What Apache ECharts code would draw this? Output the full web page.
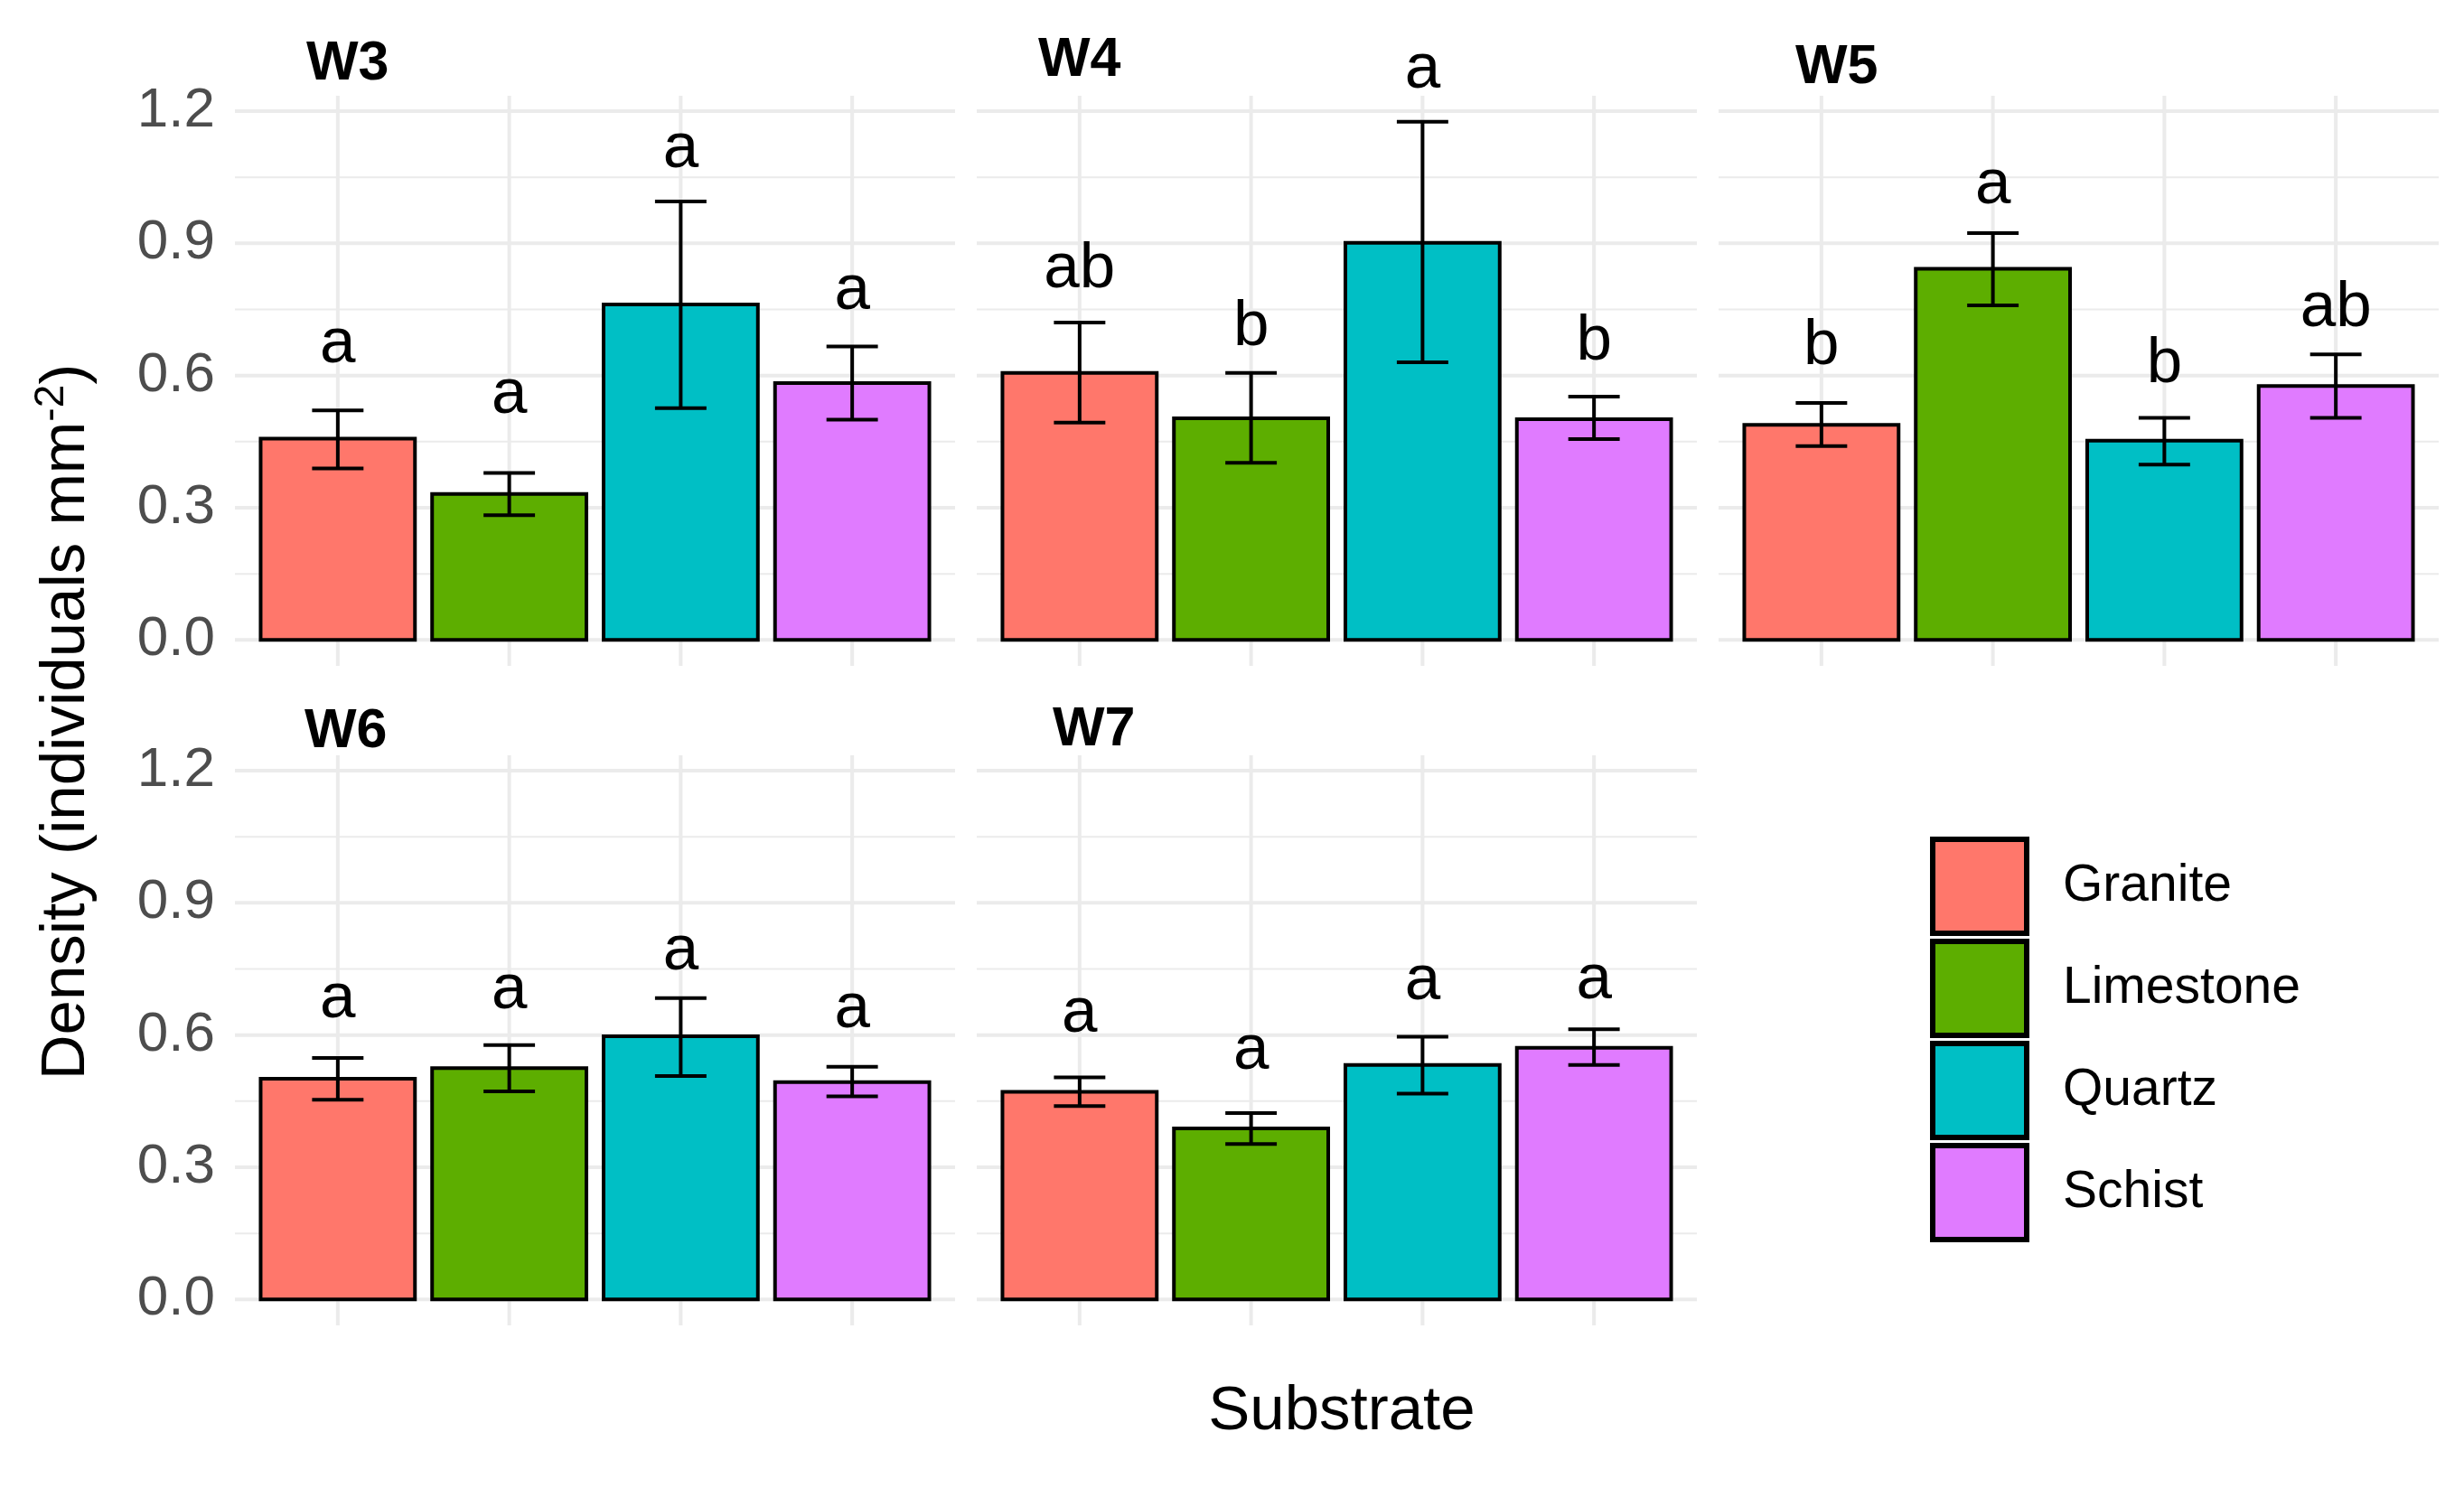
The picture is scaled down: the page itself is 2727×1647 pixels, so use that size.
<!DOCTYPE html>
<html>
<head>
<meta charset="utf-8">
<script src="https://cdn.jsdelivr.net/npm/echarts@6/dist/echarts.min.js"></script>
<style>
html,body{margin:0;padding:0;background:#fff;}
#chart{width:2727px;height:1647px;}
</style>
</head>
<body>
<div id="chart"></div>
<script>
// ---------------- data ----------------
const categories = ['Granite', 'Limestone', 'Quartz', 'Schist'];
const panels = ['W3', 'W4', 'W5', 'W6', 'W7'];
const colors = ['#FF776B', '#5DAE00', '#00BFC5', '#E07BFF'];

const meanW3 = [0.457, 0.331, 0.761, 0.583];
const meanW4 = [0.606, 0.503, 0.901, 0.501];
const meanW5 = [0.488, 0.842, 0.452, 0.576];
const meanW6 = [0.501, 0.525, 0.597, 0.493];
const meanW7 = [0.471, 0.388, 0.532, 0.571];

const upperW3 = [0.521, 0.379, 0.995, 0.666];
const upperW4 = [0.720, 0.606, 1.176, 0.552];
const upperW5 = [0.538, 0.923, 0.504, 0.648];
const upperW6 = [0.548, 0.577, 0.684, 0.528];
const upperW7 = [0.504, 0.423, 0.596, 0.613];

const lowerW3 = [0.389, 0.283, 0.526, 0.500];
const lowerW4 = [0.493, 0.402, 0.630, 0.456];
const lowerW5 = [0.440, 0.759, 0.398, 0.504];
const lowerW6 = [0.453, 0.472, 0.507, 0.461];
const lowerW7 = [0.439, 0.353, 0.467, 0.532];

const lettersW3 = ['a', 'a', 'a', 'a'];
const lettersW4 = ['ab', 'b', 'a', 'b'];
const lettersW5 = ['b', 'a', 'b', 'ab'];
const lettersW6 = ['a', 'a', 'a', 'a'];
const lettersW7 = ['a', 'a', 'a', 'a'];

// height (data units) of the letter baseline
const letterYW3 = [0.618, 0.502, 1.060, 0.738];
const letterYW4 = [0.787, 0.656, 1.241, 0.623];
const letterYW5 = [0.613, 0.978, 0.572, 0.699];
const letterYW6 = [0.628, 0.649, 0.736, 0.605];
const letterYW7 = [0.596, 0.511, 0.668, 0.671];

const yMajorTicks = [0.0, 0.3, 0.6, 0.9, 1.2];
const yMinorTicks = [0.15, 0.45, 0.75, 1.05];

const xTitle = 'Substrate';
const yTitleMain = 'Density (individuals mm';
const yTitleSup = '-2';

// ---------------- layout ----------------
const means = [meanW3, meanW4, meanW5, meanW6, meanW7];
const uppers = [upperW3, upperW4, upperW5, upperW6, upperW7];
const lowers = [lowerW3, lowerW4, lowerW5, lowerW6, lowerW7];
const letters = [lettersW3, lettersW4, lettersW5, lettersW6, lettersW7];
const letterYs = [letterYW3, letterYW4, letterYW5, letterYW6, letterYW7];

const FONT = '"Liberation Sans", Arial, Helvetica, sans-serif';
const colLeft = [260, 1081, 1902];
const rowTop = [106, 836];
const gridW = 797, gridH = 631;
const panelPos = [[0,0],[0,1],[0,2],[1,0],[1,1]];
const yMin = -0.0588, yMax = 1.2348;
const xMin = 0.4, xMax = 4.6;
const barHalf = 0.45, capHalf = 0.15;
const letterFont = 71;
const LW = 4;

const titlePos = [[339, 77], [1149, 73], [1987, 81], [337, 816], [1165, 814]];

const grids = [], xAxes = [], yAxes = [], series = [], graphics = [];

panels.forEach((pn, p) => {
  const [r, c] = panelPos[p];
  grids.push({left: colLeft[c], top: rowTop[r], width: gridW, height: gridH, containLabel: false});
  xAxes.push({type: 'value', gridIndex: p, min: xMin, max: xMax, show: false});
  const showLab = (c === 0);
  yAxes.push({
    type: 'value', gridIndex: p, min: yMin, max: yMax,
    axisLine: {show: false}, axisTick: {show: false}, splitLine: {show: false},
    axisLabel: {
      show: showLab, customValues: yMajorTicks, margin: 22,
      fontSize: 62, color: '#4D4D4D', fontFamily: FONT,
      formatter: v => Number(v).toFixed(1)
    }
  });

  // gridlines
  const gridData = [];
  yMajorTicks.forEach(v => gridData.push([0, v]));
  yMinorTicks.forEach(v => gridData.push([1, v]));
  categories.forEach((cat, i) => gridData.push([2, i + 1]));
  series.push({
    type: 'custom', xAxisIndex: p, yAxisIndex: p, z: 0, silent: true,
    data: gridData, encode: {x: -1, y: -1},
    renderItem: (params, api) => {
      const kind = api.value(0), v = api.value(1);
      let a, b, w;
      if (kind === 2) { a = api.coord([v, yMin]); b = api.coord([v, yMax]); w = 4; }
      else { a = api.coord([xMin, v]); b = api.coord([xMax, v]); w = kind === 0 ? 4 : 2; }
      return {type: 'line', shape: {x1: a[0], y1: a[1], x2: b[0], y2: b[1]},
              style: {stroke: '#EBEBEB', lineWidth: w}};
    }
  });

  // bars + error bars + letters
  categories.forEach((cat, s) => {
    const lab = letters[p][s];
    series.push({
      type: 'custom', name: cat, xAxisIndex: p, yAxisIndex: p, z: 2,
      itemStyle: {color: colors[s], borderColor: '#000', borderWidth: LW},
      data: [[s + 1, means[p][s], lowers[p][s], uppers[p][s], letterYs[p][s]]],
      encode: {x: 0, y: 1},
      renderItem: (params, api) => {
        const x = api.value(0), m = api.value(1), lo = api.value(2), hi = api.value(3), ly = api.value(4);
        const t = api.coord([x - barHalf, m]);
        const b = api.coord([x + barHalf, 0]);
        const eTop = api.coord([x, hi]), eBot = api.coord([x, lo]);
        const cL = api.coord([x - capHalf, hi])[0], cR = api.coord([x + capHalf, hi])[0];
        const lp = api.coord([x, ly]);
        const es = {stroke: '#000', lineWidth: LW};
        return {type: 'group', children: [
          {type: 'rect', shape: {x: t[0], y: t[1], width: b[0] - t[0], height: b[1] - t[1]},
           style: {fill: colors[s], stroke: '#000', lineWidth: LW}},
          {type: 'line', shape: {x1: eTop[0], y1: eTop[1], x2: eBot[0], y2: eBot[1]}, style: es},
          {type: 'line', shape: {x1: cL, y1: eTop[1], x2: cR, y2: eTop[1]}, style: es},
          {type: 'line', shape: {x1: cL, y1: eBot[1], x2: cR, y2: eBot[1]}, style: es},
          {type: 'text', x: lp[0], y: lp[1] - 0.36 * letterFont,
           style: {text: lab, fill: '#000', fontSize: letterFont, fontFamily: FONT,
                   align: 'center', verticalAlign: 'middle'}}
        ]};
      }
    });
  });

  graphics.push({type: 'text', left: titlePos[p][0], top: titlePos[p][1] - 36,
    style: {text: pn, fontSize: 61, fontWeight: 'bold', fontFamily: FONT, fill: '#000'}});
});

graphics.push({type: 'text', x: 1485, y: 1563,
  style: {text: xTitle, fontSize: 69, fontFamily: FONT, fill: '#000', align: 'center', verticalAlign: 'middle'}});
graphics.push({type: 'text', x: 74, y: 799, rotation: Math.PI / 2,
  style: {text: yTitleMain + '{sup|' + yTitleSup + '})', fontSize: 69, fontFamily: FONT, fill: '#000',
          align: 'center', verticalAlign: 'middle',
          rich: {sup: {fontSize: 46, fontFamily: FONT, fill: '#000', verticalAlign: 'top', lineHeight: 80}}}});

const chart = echarts.init(document.getElementById('chart'));
chart.setOption({
  animation: false,
  backgroundColor: '#fff',
  grid: grids, xAxis: xAxes, yAxis: yAxes, series: series,
  legend: {
    data: categories, orient: 'vertical', left: 2131, top: 921,
    itemWidth: 104, itemHeight: 104, itemGap: 3, icon: 'rect',
    itemStyle: {borderColor: '#000', borderWidth: 6},
    textStyle: {fontSize: 57, fontFamily: FONT, color: '#000', padding: [0, 0, 0, 35]},
    selectedMode: false
  },
  graphic: graphics
});
</script>
</body>
</html>
